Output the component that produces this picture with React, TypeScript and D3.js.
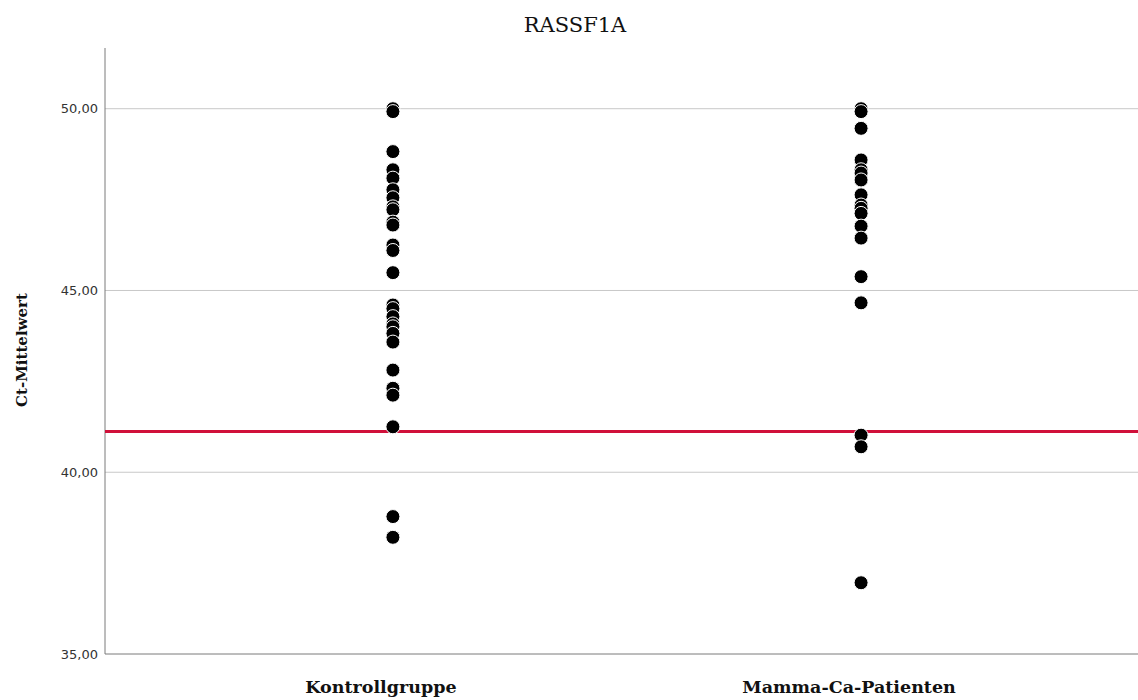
import * as d3 from "d3";
import { useEffect, useRef } from "react";

const categories = ["Kontrollgruppe", "Mamma-Ca-Patienten"];

const kontrollValues = [
  50.0, 49.92, 48.82, 48.32, 48.09, 47.77, 47.55, 47.3, 47.22, 46.88, 46.8,
  46.25, 46.1, 45.49, 44.6, 44.5, 44.28, 44.08, 44.0, 43.82, 43.58, 42.81,
  42.31, 42.12, 41.25, 38.78, 38.21,
];

const mammaValues = [
  50.0, 49.92, 49.46, 48.59, 48.32, 48.23, 48.04, 47.63, 47.35, 47.26, 47.12,
  46.77, 46.44, 45.38, 44.66, 41.02, 40.7, 36.96,
];

const yTicks = [35, 40, 45, 50];
const cutoff = 41.12;

const App: React.FC = () => {
  const ref = useRef<SVGSVGElement | null>(null);

  useEffect(() => {
    const svg = d3.select(ref.current);
    svg.selectAll("*").remove();

    const width = 1138,
      height = 700,
      margin = { top: 48, right: 0, bottom: 46, left: 105 };
    const chartHeight = height - margin.top - margin.bottom;

    const xScale = d3
      .scalePoint()
      .domain(categories)
      .range([margin.left, width + 11])
      .padding(0.615);

    const yScale = d3
      .scaleLinear()
      .domain([35, 51.67])
      .range([margin.top + chartHeight, margin.top]);

    const right = width - margin.right;
    const bottom = margin.top + chartHeight;

    // gridlines
    svg
      .append("g")
      .selectAll("line")
      .data(yTicks.filter((t) => t > 35))
      .join("line")
      .attr("x1", margin.left)
      .attr("x2", right)
      .attr("y1", (d) => yScale(d))
      .attr("y2", (d) => yScale(d))
      .attr("stroke", "#c8c8c8")
      .attr("stroke-width", 1);

    // axes
    svg
      .append("line")
      .attr("x1", margin.left)
      .attr("x2", margin.left)
      .attr("y1", margin.top)
      .attr("y2", bottom)
      .attr("stroke", "#7a7a7a");
    svg
      .append("line")
      .attr("x1", margin.left)
      .attr("x2", right)
      .attr("y1", bottom)
      .attr("y2", bottom)
      .attr("stroke", "#7a7a7a");

    svg
      .append("g")
      .selectAll("text")
      .data(yTicks)
      .join("text")
      .attr("x", margin.left - 7)
      .attr("y", (d) => yScale(d))
      .attr("dy", "0.35em")
      .attr("text-anchor", "end")
      .attr("font-family", "DejaVu Sans, Verdana, sans-serif")
      .attr("font-size", 13)
      .attr("fill", "#333")
      .text((d) => d3.format(".2f")(d).replace(".", ","));

    // reference line
    svg
      .append("line")
      .attr("x1", margin.left)
      .attr("x2", right)
      .attr("y1", yScale(cutoff))
      .attr("y2", yScale(cutoff))
      .attr("stroke", "#d0103a")
      .attr("stroke-width", 3);

    // points
    const series = [kontrollValues, mammaValues];
    series.forEach((vals, i) => {
      svg
        .append("g")
        .selectAll("circle")
        .data(vals)
        .join("circle")
        .attr("cx", xScale(categories[i]) ?? 0)
        .attr("cy", (d) => yScale(d))
        .attr("r", 7)
        .attr("fill", "#000")
        .attr("stroke", "#fff")
        .attr("stroke-width", 1);
    });

    // category labels
    svg
      .append("g")
      .selectAll("text")
      .data(categories)
      .join("text")
      .attr("x", (d) => (xScale(d) ?? 0) - 12)
      .attr("y", 693)
      .attr("text-anchor", "middle")
      .attr("font-family", "DejaVu Serif, serif")
      .attr("font-weight", "bold")
      .attr("font-size", 17.5)
      .attr("fill", "#111")
      .text((d) => d);

    // axis title
    svg
      .append("text")
      .attr("transform", `translate(27, 350) rotate(-90)`)
      .attr("text-anchor", "middle")
      .attr("font-family", "DejaVu Serif, serif")
      .attr("font-weight", "bold")
      .attr("font-size", 15)
      .attr("fill", "#111")
      .text("Ct-Mittelwert");

    // title
    svg
      .append("text")
      .attr("x", 575)
      .attr("y", 32)
      .attr("text-anchor", "middle")
      .attr("font-family", "DejaVu Serif, serif")
      .attr("font-size", 21)
      .attr("fill", "#111")
      .text("RASSF1A");
  }, []);

  return (
    <svg
      ref={ref}
      width={1138}
      height={700}
      style={{ position: "absolute", left: 0, top: 0, background: "#fff" }}
    ></svg>
  );
};

export default App;
